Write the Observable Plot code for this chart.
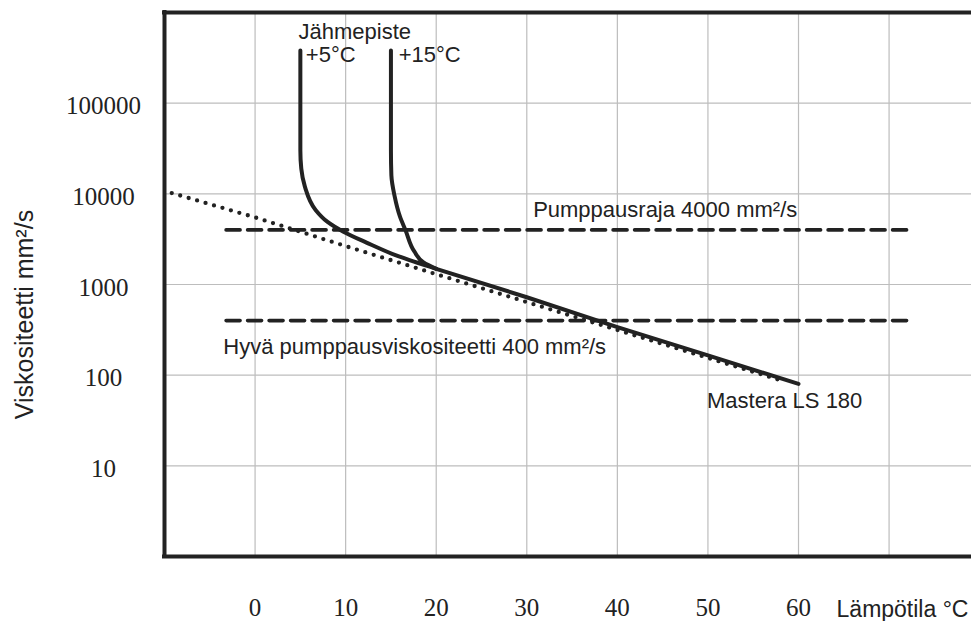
<!DOCTYPE html>
<html><head><meta charset="utf-8">
<script src="https://cdn.jsdelivr.net/npm/d3@7"></script>
<script src="https://cdn.jsdelivr.net/npm/@observablehq/plot@0.6"></script>
<style>html,body{margin:0;padding:0;background:#fff;overflow:hidden}</style>
</head><body><div id="chart"></div>
<script>
// Axis ticks
const xTicks = [0, 10, 20, 30, 40, 50, 60];
const xGrid = [0, 10, 20, 30, 40, 50, 60, 70, 80];
const yTicks = [10, 100, 1000, 10000, 100000];
const yTickLabels = ["10", "100", "1000", "10000", "100000"];

// Mastera LS 180 viscosity line (°C, mm²/s)
const mainTemp = [20, 30, 40, 50, 60];
const mainVisc = [1490, 724, 338, 165, 80];

// Pour point +5 °C branch
const pour5Temp = [5, 5, 5.1, 5.5, 6.7, 8, 9.7, 12.3, 15.8, 20];
const pour5Visc = [380000, 30000, 19000, 12000, 6600, 4900, 3850, 2900, 2050, 1490];

// Pour point +15 °C branch
const pour15Temp = [15, 15, 15.05, 15.4, 16, 16.6, 17.6, 18.6, 20];
const pour15Visc = [380000, 30000, 16000, 9500, 5600, 4000, 2300, 1750, 1490];

// Dotted extrapolation line
const trendTemp = [-9.2, 0, 10, 20, 30, 40, 50, 58];
const trendVisc = [10200, 5500, 2650, 1300, 640, 315, 155, 88];

// Pumping limits
const limitValues = [4000, 400];
const limitStart = -3.2;
const limitEnd = 72;

// Annotations
const noteTexts = ["Jähmepiste", "+5°C", "+15°C", "Pumppausraja 4000 mm²/s", "Hyvä pumppausviskositeetti 400 mm²/s", "Mastera LS 180"];
const noteTemp = [4.8, 5.6, 15.85, 30.7, -3.5, 49.9];
const noteVisc = [513000, 283000, 283000, 5520, 173, 43];

const yTitle = "Viskositeetti mm²/s";
const xTitle = "Lämpötila °C";
const xTitleTemp = 64.2;

const ink = "#222";
const toPts = (xs, ys) => xs.map((x, i) => ({x, y: ys[i]}));
const branches = [
  ...toPts(pour5Temp, pour5Visc).map(d => ({...d, k: "p5"})),
  ...toPts(pour15Temp, pour15Visc).map(d => ({...d, k: "p15"}))
];
const limits = limitValues.flatMap(v => [{x: limitStart, y: v, k: v}, {x: limitEnd, y: v, k: v}]);
const notes = noteTexts.map((t, i) => ({t, x: noteTemp[i], y: noteVisc[i]}));

const chart = Plot.plot({
  width: 971,
  height: 621,
  marginLeft: 164,
  marginRight: 0,
  marginTop: 12,
  marginBottom: 65,
  x: {domain: [-10, 79.1], axis: null},
  y: {type: "log", domain: [1, 1e6], axis: null},
  style: {fontFamily: "Liberation Sans, Arial, sans-serif", color: ink, background: "#fff"},
  marks: [
    Plot.ruleX(xGrid, {stroke: "#bdbdbd", strokeWidth: 1.2}),
    Plot.ruleY(yTicks, {stroke: "#bdbdbd", strokeWidth: 1.2}),
    Plot.line(limits, {x: "x", y: "y", z: "k", stroke: ink, strokeWidth: 3.6, strokeDasharray: "14,7.5"}),
    Plot.line(toPts(trendTemp, trendVisc), {x: "x", y: "y", stroke: ink, strokeWidth: 4.3, strokeDasharray: "0,8.8", strokeLinecap: "round"}),
    Plot.line(branches, {x: "x", y: "y", z: "k", stroke: ink, strokeWidth: 4, curve: "monotone-y"}),
    Plot.line(toPts(mainTemp, mainVisc), {x: "x", y: "y", stroke: ink, strokeWidth: 4}),
    Plot.ruleY([1, 1e6], {stroke: ink, strokeWidth: 4, strokeLinecap: "square"}),
    Plot.ruleX([-10], {stroke: ink, strokeWidth: 4, strokeLinecap: "square"}),
    Plot.text(notes, {x: "x", y: "y", text: "t", textAnchor: "start", lineAnchor: "bottom", fontSize: 22, fill: ink}),
    Plot.text(xTicks, {x: d => d, text: d => String(d), frameAnchor: "bottom", dy: 51, lineAnchor: "middle", textAnchor: "middle", fontSize: 25, fontFamily: "Liberation Serif, Times New Roman, serif", fill: ink}),
    Plot.text(yTicks, {y: d => d, text: (d, i) => yTickLabels[i], frameAnchor: "left", dx: -61, dy: 3, textAnchor: "middle", lineAnchor: "middle", fontSize: 25, fontFamily: "Liberation Serif, Times New Roman, serif", fill: ink}),
    Plot.text([{t: xTitle, x: xTitleTemp}], {x: "x", text: "t", frameAnchor: "bottom", dy: 60, textAnchor: "start", lineAnchor: "bottom", fontSize: 23, fill: ink}),
    Plot.text([yTitle], {text: d => d, frameAnchor: "left", dx: -140, dy: 30, rotate: -90, textAnchor: "middle", lineAnchor: "middle", fontSize: 25, fill: ink})
  ]
});
document.getElementById("chart").appendChild(chart);
</script>
</body></html>
